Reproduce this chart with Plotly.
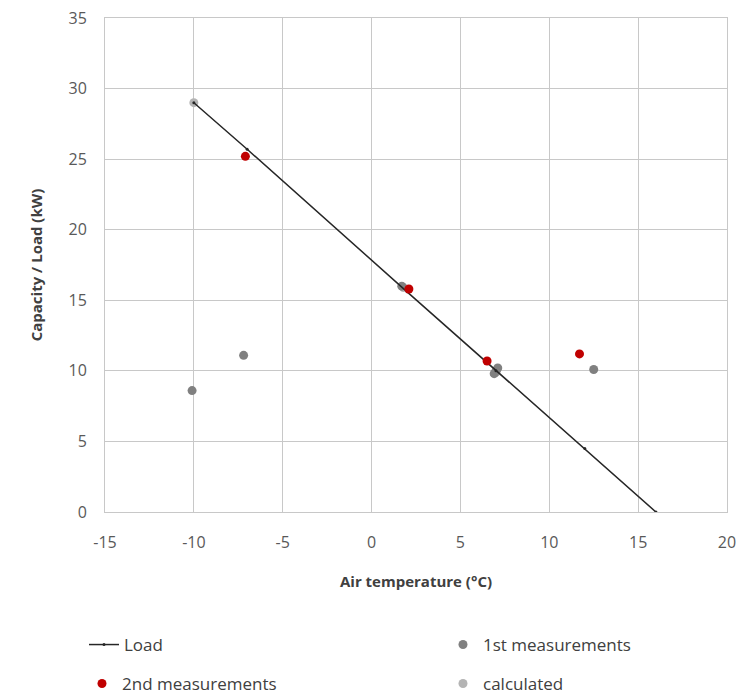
import plotly.graph_objects as go

# Data
load_x = [-10, -7, 2, 6.5, 7, 12, 16]
load_y = [29.0, 25.7, 15.6, 10.6, 10.0, 4.5, 0.0]

first_x = [-10.1, -7.2, 1.7, 7.0, 6.9, 7.1, 12.5]
first_y = [8.6, 11.1, 16.0, 10.0, 9.8, 10.2, 10.1]

second_x = [-7.1, 2.1, 6.5, 11.7]
second_y = [25.2, 15.8, 10.7, 11.2]

calc_x = [-10.0, 1.8, 7.0]
calc_y = [29.0, 15.9, 9.9]

x_ticks = [-15, -10, -5, 0, 5, 10, 15, 20]
y_ticks = [0, 5, 10, 15, 20, 25, 30, 35]

FONT = "Open Sans"
GRID = "#c8c8c8"

ML, MR, MT, MB = 105, 18, 18, 187
W, H = 745, 699
PW, PH = W - ML - MR, H - MT - MB

fig = go.Figure()
fig.add_trace(go.Scatter(x=calc_x, y=calc_y, mode="markers", name="calculated",
                         marker=dict(color="#b4b4b4", size=9), legend="legend4"))
fig.add_trace(go.Scatter(x=first_x, y=first_y, mode="markers", name="1st measurements",
                         marker=dict(color="#808080", size=9), legend="legend2"))
fig.add_trace(go.Scatter(x=load_x, y=load_y, mode="lines+markers", name="Load",
                         line=dict(color="#262626", width=1.5),
                         marker=dict(color="#262626", size=3), legend="legend"))
fig.add_trace(go.Scatter(x=second_x, y=second_y, mode="markers", name="2nd measurements",
                         marker=dict(color="#c00000", size=9), legend="legend3"))

def leg(px, py, anchor="middle"):
    return dict(x=(px - ML) / PW, y=(H - MB - py) / PH, visible=True,
                xanchor="left", yanchor=anchor, bgcolor="rgba(0,0,0,0)",
                font=dict(family=FONT, size=17, color="#404040"))

fig.update_layout(
    width=W, height=H,
    showlegend=True,
    margin=dict(l=ML, r=MR, t=MT, b=MB, autoexpand=False),
    paper_bgcolor="white", plot_bgcolor="white",
    font=dict(family=FONT, size=15, color="#595959"),
    legend=leg(84, 645),
    legend2=leg(443, 645),
    legend3=leg(82, 684),
    legend4=leg(443, 684),
    xaxis=dict(range=[-15, 20], tickvals=x_ticks, ticktext=[str(v) for v in x_ticks],
               showgrid=True, gridcolor=GRID, gridwidth=1, zeroline=False,
               showline=True, linecolor=GRID, mirror=True,
               ticks="outside", ticklen=16, tickcolor="rgba(0,0,0,0)",
               tickfont=dict(family=FONT, size=16, color="#595959"),
               title=dict(text="<b>Air temperature (°C)</b>", standoff=24,
                          font=dict(family=FONT, size=15, color="#404040"))),
    yaxis=dict(range=[0, 35], tickvals=y_ticks, ticktext=[str(v) for v in y_ticks],
               showgrid=True, gridcolor=GRID, gridwidth=1, zeroline=False,
               showline=True, linecolor=GRID, mirror=True,
               ticks="outside", ticklen=14, tickcolor="rgba(0,0,0,0)",
               tickfont=dict(family=FONT, size=16, color="#595959"),
               title=dict(text="<b>Capacity / Load (kW)</b>", standoff=22,
                          font=dict(family=FONT, size=15, color="#404040"))),
)

fig.write_html("out.html")
